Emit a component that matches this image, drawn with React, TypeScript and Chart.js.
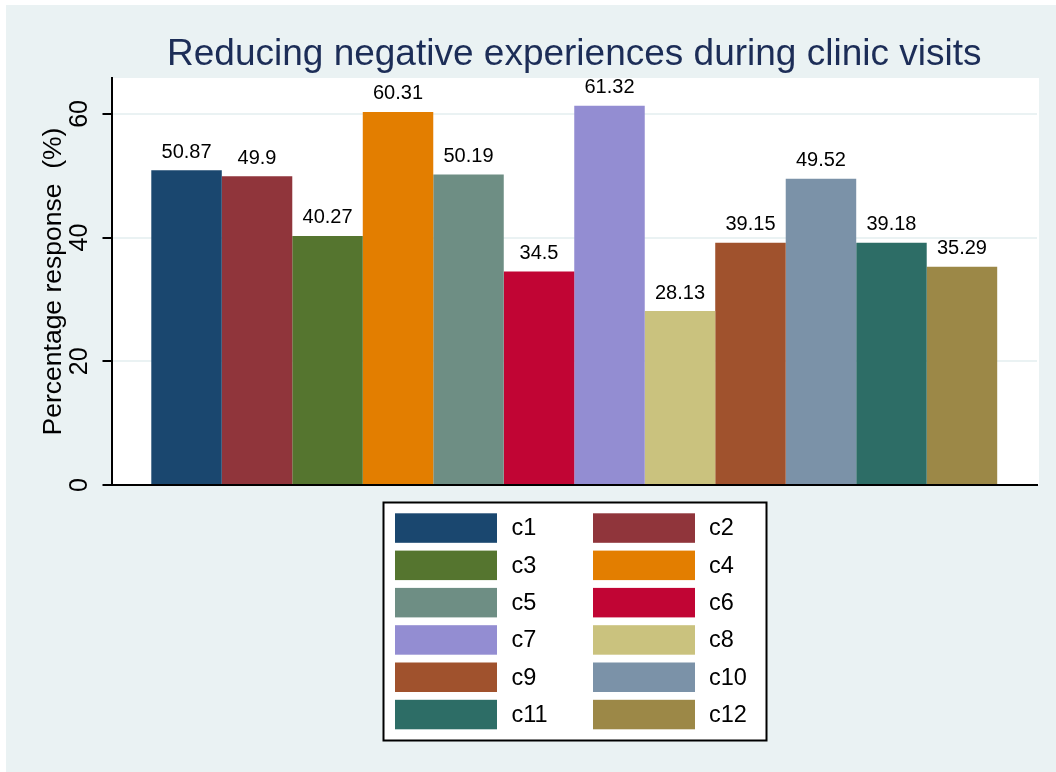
import React, { useEffect, useRef } from "react";
import { Chart, registerables } from "chart.js";

Chart.register(...registerables);

const categories = ["c1", "c2", "c3", "c4", "c5", "c6", "c7", "c8", "c9", "c10", "c11", "c12"];
const values = [50.87, 49.9, 40.27, 60.31, 50.19, 34.5, 61.32, 28.13, 39.15, 49.52, 39.18, 35.29];
const valueLabels = ["50.87", "49.9", "40.27", "60.31", "50.19", "34.5", "61.32", "28.13", "39.15", "49.52", "39.18", "35.29"];
const colors = [
  "#1A476F", "#90353B", "#55752F", "#E37E00", "#6E8E84", "#C10534",
  "#938DD2", "#CAC27E", "#A0522D", "#7B92A8", "#2D6D66", "#9C8847",
];
const yTicks = [0, 20, 40, 60];
const yMax = 65.8;
const titleText = "Reducing negative experiences during clinic visits";
const yAxisTitle = "Percentage response  (%)";

const FONT = "'Liberation Sans', Arial, Helvetica, sans-serif";
const BG = "#EAF2F3";

const backgroundPlugin = {
  id: "bgPlugin",
  beforeDraw(chart: any) {
    const { ctx, width, height, chartArea } = chart;
    ctx.save();
    ctx.fillStyle = "#FFFFFF";
    ctx.fillRect(0, 0, width, height);
    ctx.fillStyle = BG;
    ctx.fillRect(6, 5, width - 6, height - 5);
    ctx.fillStyle = "#FFFFFF";
    ctx.fillRect(chartArea.left, chartArea.top, chartArea.right - chartArea.left + 2, chartArea.bottom - chartArea.top);
    ctx.restore();
  },
};

const titlePlugin = {
  id: "titlePlugin",
  afterDraw(chart: any) {
    const { ctx, chartArea } = chart;
    ctx.save();
    ctx.font = `37px ${FONT}`;
    ctx.fillStyle = "#1C2D57";
    ctx.textAlign = "center";
    ctx.textBaseline = "alphabetic";
    ctx.fillText(titleText, (chartArea.left + chartArea.right) / 2, 65);
    ctx.restore();
  },
};

const valueLabelPlugin = {
  id: "valueLabelPlugin",
  afterDatasetsDraw(chart: any) {
    const { ctx } = chart;
    ctx.save();
    ctx.font = `20px ${FONT}`;
    ctx.fillStyle = "#000000";
    ctx.textAlign = "center";
    ctx.textBaseline = "alphabetic";
    chart.data.datasets.forEach((ds: any, i: number) => {
      const meta = chart.getDatasetMeta(i);
      meta.data.forEach((bar: any) => {
        ctx.fillText(valueLabels[i], bar.x, bar.y - 12.5);
      });
    });
    ctx.restore();
  },
};

const legendPlugin = {
  id: "legendPlugin",
  afterDraw(chart: any) {
    const { ctx } = chart;
    const boxX = 383.5;
    const boxY = 502.5;
    const boxW = 383;
    const boxH = 238;
    ctx.save();
    ctx.fillStyle = "#FFFFFF";
    ctx.fillRect(boxX, boxY, boxW, boxH);
    ctx.lineWidth = 2;
    ctx.strokeStyle = "#000000";
    ctx.strokeRect(boxX, boxY, boxW, boxH);
    const colX = [395, 593];
    const textX = [511.5, 709];
    const swW = 102;
    const swH = 29.5;
    const rowTop = 513.3;
    const rowPitch = 37.3;
    ctx.font = `23.5px ${FONT}`;
    ctx.textAlign = "left";
    ctx.textBaseline = "alphabetic";
    chart.data.datasets.forEach((ds: any, i: number) => {
      const col = i % 2;
      const row = Math.floor(i / 2);
      const y = rowTop + row * rowPitch;
      ctx.fillStyle = ds.backgroundColor;
      ctx.fillRect(colX[col], y, swW, swH);
      ctx.fillStyle = "#000000";
      ctx.fillText(ds.label, textX[col], y + 22);
    });
    ctx.restore();
  },
};

export default function App() {
  const ref = useRef<HTMLCanvasElement>(null);

  useEffect(() => {
    if (!ref.current) return;
    const chart = new Chart(ref.current, {
      type: "bar",
      data: {
        labels: [""],
        datasets: categories.map((c, i) => ({
          label: c,
          data: [values[i]],
          backgroundColor: colors[i],
          borderWidth: 0,
          barPercentage: 1,
          categoryPercentage: 0.914,
        })),
      },
      options: {
        responsive: false,
        animation: false,
        devicePixelRatio: 1,
        layout: { padding: { left: 11.5, right: 19, top: 78, bottom: 287 } },
        plugins: {
          legend: { display: false },
          title: { display: false },
          tooltip: { enabled: false },
        },
        scales: {
          x: {
            grid: { display: false, drawTicks: false },
            ticks: { display: false },
            border: { display: true, color: "#000000", width: 2 },
            afterFit: (s: any) => {
              s.height = 0;
            },
          },
          y: {
            min: 0,
            max: yMax,
            afterBuildTicks: (s: any) => {
              s.ticks = yTicks.map((v) => ({ value: v }));
            },
            afterFit: (s: any) => {
              s.width = 100;
            },
            ticks: {
              font: { family: FONT, size: 25 },
              color: "#000000",
              minRotation: 90,
              maxRotation: 90,
              crossAlign: "center",
              padding: 8,
            },
            grid: {
              color: BG,
              lineWidth: 2,
              tickColor: "#000000",
              tickWidth: 2,
              tickLength: 9,
            },
            border: { color: "#000000", width: 2 },
            title: {
              display: true,
              text: yAxisTitle,
              font: { family: FONT, size: 26.5 },
              color: "#000000",
              padding: { top: 26, bottom: 0 },
            },
          },
        },
      },
      plugins: [backgroundPlugin, valueLabelPlugin, titlePlugin, legendPlugin],
    } as any);
    return () => chart.destroy();
  }, []);

  return (
    <div style={{ position: "absolute", left: 0, top: 0, width: 1056, height: 772 }}>
      <canvas ref={ref} width={1056} height={772} style={{ display: "block", width: 1056, height: 772 }} />
    </div>
  );
}
